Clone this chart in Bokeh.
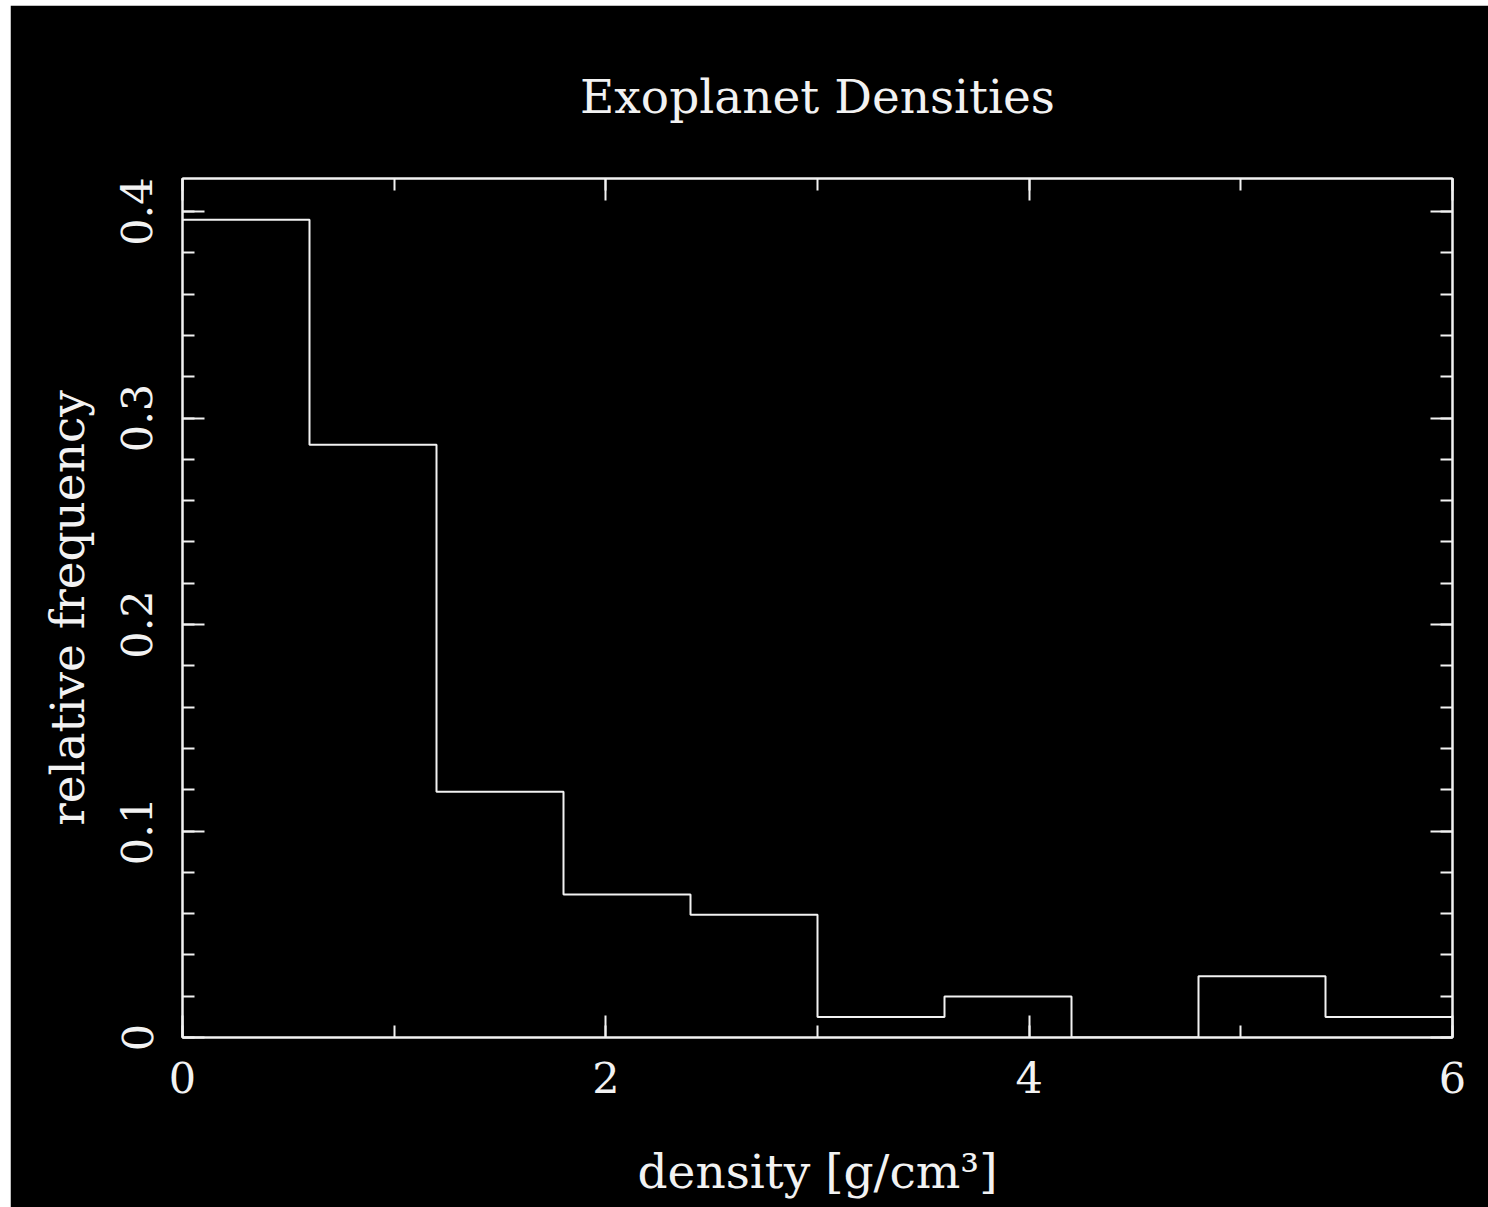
from bokeh.plotting import figure
from bokeh.models import LinearAxis, SingleIntervalTicker, Range1d, CustomJSTickFormatter
from bokeh.embed import file_html
from bokeh.resources import INLINE

# Data (relative frequency per density bin)
bin_edges = [0.0, 0.6, 1.2, 1.8, 2.4, 3.0, 3.6, 4.2, 4.8, 5.4, 6.0]
rel_freq = [0.396, 0.287, 0.119, 0.0693, 0.0594, 0.0099, 0.0198, 0.0, 0.0297, 0.0099]
x_ticks_labels = {0: "0", 2: "2", 4: "4", 6: "6"}
y_ticks_labels = {0: "0", 0.1: "0.1", 0.2: "0.2", 0.3: "0.3", 0.4: "0.4"}
title_text = "Exoplanet Densities"

FONT = "DejaVu Serif"
FG = "#f2f2f2"
BG = "#000000"

p = figure(width=1478, height=1202, output_backend="svg", toolbar_location=None,
           x_range=Range1d(0, 6), y_range=Range1d(0, 0.416),
           x_axis_type=None, y_axis_type=None,
           min_border_left=172, min_border_right=36, min_border_top=173, min_border_bottom=170,
           background_fill_color=BG, border_fill_color=BG,
           outline_line_color=FG, outline_line_width=2)
p.margin = (5, 0, 0, 10)
p.grid.visible = False

p.title.text = title_text
p.title.align = "center"
p.title.text_font = FONT
p.title.text_font_style = "normal"
p.title.text_font_size = "47px"
p.title.text_color = FG
p.title.standoff = 110


def make_axis(ticker, labels, show_labels):
    ax = LinearAxis(ticker=ticker)
    ax.axis_line_color = FG
    ax.axis_line_width = 2
    ax.major_tick_line_color = FG
    ax.major_tick_line_width = 2
    ax.minor_tick_line_color = FG
    ax.minor_tick_line_width = 2
    ax.major_tick_in = 22
    ax.major_tick_out = 0
    ax.minor_tick_in = 12
    ax.minor_tick_out = 0
    ax.major_label_text_font = FONT
    ax.major_label_text_font_size = "43px"
    ax.major_label_text_color = FG
    ax.axis_label_text_font = FONT
    ax.axis_label_text_font_size = "47px"
    ax.axis_label_text_font_style = "normal"
    ax.axis_label_text_color = FG
    if show_labels:
        ax.major_label_overrides = labels
    else:
        ax.formatter = CustomJSTickFormatter(code="return '';")
        ax.major_label_text_font_size = "1px"
        ax.major_label_standoff = 0
    return ax


xt = dict(interval=2, num_minor_ticks=2)
yt = dict(interval=0.1, num_minor_ticks=5)

xb = make_axis(SingleIntervalTicker(**xt), x_ticks_labels, True)
xb.axis_label = "density [g/cm³]"
xb.major_label_standoff = 24
xb.axis_label_standoff = 48
p.add_layout(xb, "below")

yl = make_axis(SingleIntervalTicker(**yt), y_ticks_labels, True)
yl.axis_label = "relative frequency"
yl.major_label_orientation = "vertical"
yl.major_label_standoff = 30
yl.axis_label_standoff = 24
p.add_layout(yl, "left")

xa = make_axis(SingleIntervalTicker(**xt), {}, False)
p.add_layout(xa, "above")
yr = make_axis(SingleIntervalTicker(**yt), {}, False)
p.add_layout(yr, "right")

step_x = bin_edges
step_y = rel_freq + [rel_freq[-1]]
p.step(step_x, step_y, mode="after", line_color=FG, line_width=2)

html = file_html(p, INLINE, title=title_text)
html = html.replace("<body>", '<body style="margin:0;background:#e7e7e3;">', 1)
open("out.html", "w").write(html)
